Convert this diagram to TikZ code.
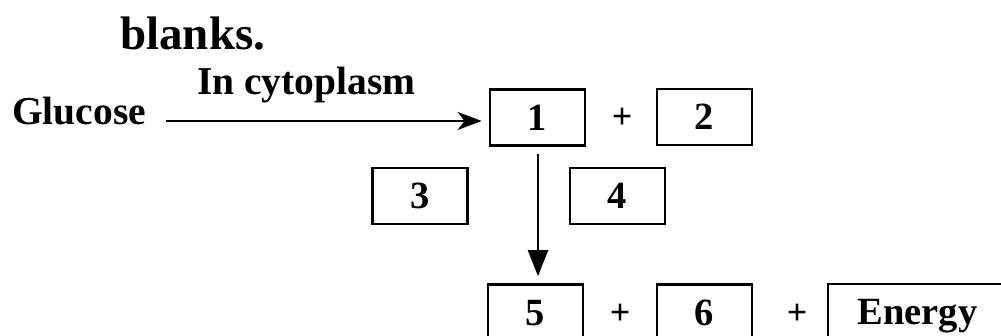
\documentclass[tikz,border=0pt]{standalone}
\usepackage{fontspec}
\setmainfont{Liberation Serif}
\usetikzlibrary{arrows.meta}
\begin{document}
\begin{tikzpicture}[x=1pt,y=-1pt,
  txt/.style={inner sep=0pt,anchor=base west,font=\fontsize{39.5}{42}\selectfont\bfseries},
  blank/.style={draw,line width=2.8pt,inner sep=0pt,minimum width=95pt,minimum height=56pt,
    font=\fontsize{38.5}{40}\selectfont\bfseries,text depth=0pt},
  plus/.style={inner sep=0pt,font=\fontsize{36}{40}\selectfont\bfseries}]
\useasboundingbox (0,0) rectangle (1001,336);
\node[txt,font=\fontsize{47}{50}\selectfont\bfseries] (blanks) at (120,50) {blanks.};
\node[txt] (cyto) at (197,95) {In cytoplasm};
\node[txt] (glucose) at (12,125) {Glucose};
\node[blank] (b1) at (537.5,117.5) {1};
\node[plus] (p1) at (622,118) {+};
\node[blank] (b2) at (704.5,117) {2};
\node[blank] (b3) at (420,196) {3};
\node[blank] (b4) at (617.5,196) {4\hspace{4pt}};
\node[blank] (b5) at (535.5,312.5) {5};
\node[plus] (p2) at (620,314) {+};
\node[blank] (b6) at (704.5,312.5) {6};
\node[plus] (p3) at (797,314) {+};
\node[blank,minimum width=179pt] (en) at (917.5,312) {Energy};
\draw[line width=2.4pt,-{Stealth[length=24pt,width=18pt,inset=7pt]},shorten >=7pt]
  ([xshift=20pt,yshift=-3.5pt]glucose.east |- b1.west) -- ([yshift=-3.5pt]b1.west);
\draw[line width=2.4pt,-{Triangle[length=26pt,width=20pt]},shorten <=7pt,shorten >=7pt]
  ([xshift=0.5pt]b1.south) -- ([xshift=2.5pt]b5.north);
\end{tikzpicture}
\end{document}
